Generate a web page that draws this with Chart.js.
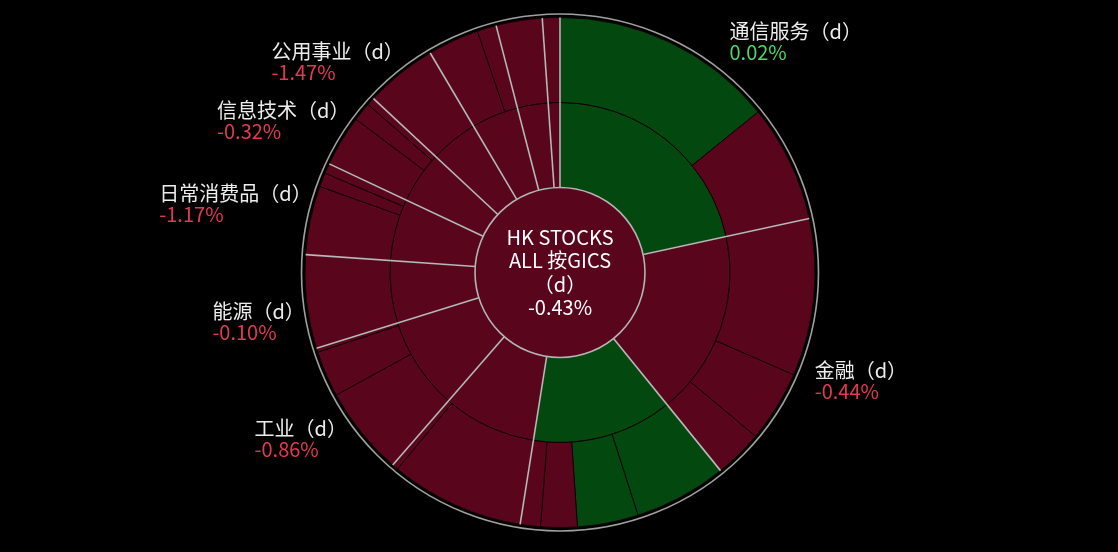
<!DOCTYPE html>
<html>
<head>
<meta charset="utf-8">
<script src="https://cdn.jsdelivr.net/npm/chart.js@4"></script>
<style>
  html, body { margin: 0; padding: 0; background: #000; }
  #wrap { width: 1118px; height: 552px; position: relative; }
</style>
</head>
<body>
<div id="wrap"><canvas id="sunburst"></canvas></div>
<script>
// sectors (inner ring), sorted by weight, clockwise from the top
const sectorNames = ['通信服务', '金融', '非日常消费品', '房地产', '工业', '能源',
  '日常消费品', '信息技术', '公用事业', '医疗保健', '原材料', '其他'];
const sectorChanges = [0.02, -0.44, 0.31, -0.52, -0.86, -0.10, -1.17, -0.32, -1.47, -0.65, -0.58, -0.21];

// industries (outer ring): which sector each belongs to, weight (% of index), daily change
const industrySector = [0, 0, 1, 1, 1, 2, 2, 2, 2, 3, 3, 4, 4, 4, 5, 6, 6, 6, 7, 7, 7, 8, 9, 9, 10, 11];
const industryWeights = [14.17, 7.44, 9.97, 4.53, 3.06, 5.89, 3.86, 2.31, 1.28, 8.50, 0.39,
  5.64, 2.92, 0.25, 5.92, 4.36, 0.89, 0.64, 3.25, 1.19, 0.50, 4.56, 3.25, 1.22, 2.92, 1.11];
const industryChanges = [0.12, -0.25, -0.38, -0.52, -0.61, 0.62, 0.28, -0.35, -0.47, -0.55, -0.20,
  -0.91, -0.74, -0.33, -0.10, -1.20, -1.05, -0.88, -0.30, -0.41, -0.22, -1.47, -0.70, -0.52, -0.58, -0.21];

const rootTitle = ['HK STOCKS', 'ALL 按GICS', '（d）'];
const rootChange = -0.43;

const UP = '#03480f';
const DOWN = '#59061d';
const FONT = '20px "Noto Sans CJK SC", "DejaVu Sans", sans-serif';

// sector weight = sum of its industries, so ring boundaries line up
const sectorWeights = sectorNames.map((n, s) => {
  let sum = 0;
  for (let i = 0; i < industryWeights.length; i++) {
    if (industrySector[i] === s) sum += industryWeights[i];
  }
  return sum;
});

function fmt(v) {
  return v.toFixed(2) + '%';
}

const sunburstDecor = {
  id: 'sunburstDecor',
  afterDatasetsDraw(chart) {
    const ctx = chart.ctx;
    const inner = chart.getDatasetMeta(1).data;
    const outer = chart.getDatasetMeta(0).data;
    if (!inner.length) return;
    const cx = inner[0].x, cy = inner[0].y;
    const r0 = inner[0].innerRadius;
    const r2 = outer[0].outerRadius;

    ctx.save();
    // sector boundaries through both rings
    ctx.strokeStyle = '#b8b8b8';
    ctx.lineWidth = 1.6;
    inner.forEach(arc => {
      const a = arc.startAngle;
      ctx.beginPath();
      ctx.moveTo(cx + r0 * Math.cos(a), cy + r0 * Math.sin(a));
      ctx.lineTo(cx + r2 * Math.cos(a), cy + r2 * Math.sin(a));
      ctx.stroke();
    });

    // outer ring outline
    ctx.strokeStyle = '#a0a0a0';
    ctx.lineWidth = 1.6;
    ctx.beginPath();
    ctx.arc(cx, cy, r2 + 3.5, 0, Math.PI * 2);
    ctx.stroke();

    // root disc
    ctx.fillStyle = rootChange >= 0 ? UP : DOWN;
    ctx.beginPath();
    ctx.arc(cx, cy, r0, 0, Math.PI * 2);
    ctx.fill();
    ctx.strokeStyle = '#b4b4b4';
    ctx.lineWidth = 1.6;
    ctx.stroke();

    ctx.font = FONT;
    ctx.fillStyle = '#ffffff';
    ctx.textAlign = 'center';
    ctx.textBaseline = 'middle';
    const lines = rootTitle.concat([fmt(rootChange)]);
    lines.forEach((t, i) => {
      ctx.fillText(t, cx, cy - 35.5 + i * 23.5);
    });

    // sector labels outside the ring
    ctx.textAlign = 'left';
    const W = chart.width, H = chart.height;
    inner.forEach((arc, s) => {
      const mid = (arc.startAngle + arc.endAngle) / 2;
      const dx = Math.cos(mid), dy = Math.sin(mid);
      const ax = cx + (r2 + 15) * dx;
      const ay = cy + (r2 + 15) * dy;
      const name = sectorNames[s] + '（d）';
      const val = fmt(sectorChanges[s]);
      // ink width, so the trailing blank of the full-width bracket is ignored
      const w = Math.max(ctx.measureText(name).actualBoundingBoxRight,
        ctx.measureText(val).actualBoundingBoxRight);
      const h = 41;
      const left = dx >= 0 ? ax : ax - w;
      let top;
      if (dy > 0) top = ay - 2;
      else if (dx >= 0) top = ay - h;
      else top = ay - h / 2;
      if (top < 8 || top + h > H - 8 || left < 0 || left + w > W) return;
      ctx.fillStyle = '#ececec';
      ctx.fillText(name, left, top + 10);
      ctx.fillStyle = sectorChanges[s] >= 0 ? '#4cd767' : '#e33a52';
      ctx.fillText(val, left, top + 31);
    });
    ctx.restore();
  }
};

document.addEventListener('DOMContentLoaded', () => {
  const ctx = document.getElementById('sunburst').getContext('2d');
  new Chart(ctx, {
    type: 'doughnut',
    data: {
      labels: industryWeights.map((w, i) => sectorNames[industrySector[i]]),
      datasets: [
        {
          data: industryWeights,
          backgroundColor: industryChanges.map(v => v >= 0 ? UP : DOWN),
          borderColor: 'rgba(15,0,4,0.9)',
          borderWidth: 1
        },
        {
          data: sectorWeights,
          backgroundColor: sectorChanges.map(v => v >= 0 ? UP : DOWN),
          borderColor: 'rgba(15,0,4,0.9)',
          borderWidth: 1
        }
      ]
    },
    options: {
      responsive: true,
      maintainAspectRatio: false,
      animation: false,
      events: [],
      radius: 255,
      cutout: '33.3333%',
      layout: { padding: { top: 14, bottom: 21, left: 2, right: 0 } },
      plugins: {
        legend: { display: false },
        tooltip: { enabled: false }
      }
    },
    plugins: [sunburstDecor]
  });
});
</script>
</body>
</html>
